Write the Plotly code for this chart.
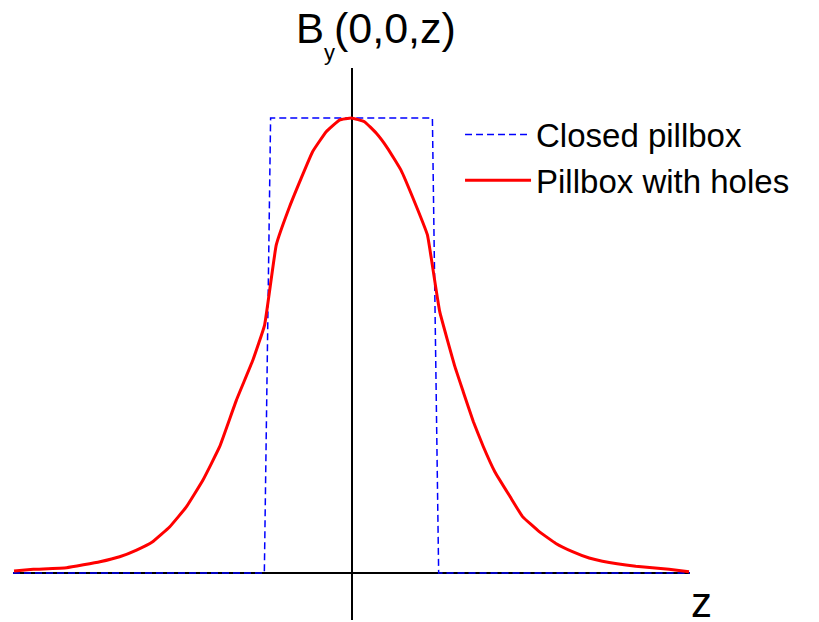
import plotly.graph_objects as go

# Closed pillbox: ideal flat-top field profile
box_z = [-4.0, -1.03, -0.956, 0.956, 1.03, 4.0]
box_by = [0.0, 0.0, 1.0, 1.0, 0.0, 0.0]

# Pillbox with beam holes: field leaks out past the cavity walls
holes_z = [-3.988, -3.76, -3.366, -2.973, -2.74, -2.54, -2.35, -2.147, -1.95,
           -1.755, -1.558, -1.36, -1.165, -1.027, -0.889, -0.732, -0.594,
           -0.46, -0.299, -0.142, 0.0, 0.153, 0.291, 0.425, 0.586, 0.72,
           0.897, 0.94, 1.042, 1.223, 1.321, 1.439, 1.557, 1.695, 1.873,
           2.021, 2.218, 2.415, 2.611, 2.808, 2.965, 3.359, 3.752, 3.988]
holes_by = [0.0044, 0.0081, 0.0116, 0.0248, 0.0358, 0.0505, 0.0688, 0.1018,
            0.1457, 0.2044, 0.2776, 0.38, 0.468, 0.545, 0.721, 0.805, 0.868,
            0.926, 0.97, 0.9956, 1.0, 0.992, 0.967, 0.934, 0.885, 0.827,
            0.743, 0.695, 0.575, 0.453, 0.398, 0.333, 0.278, 0.222, 0.168,
            0.124, 0.091, 0.065, 0.047, 0.033, 0.026, 0.015, 0.008, 0.003]

FONT = "Liberation Sans, Arial, sans-serif"

fig = go.Figure()
fig.add_trace(go.Scatter(
    x=box_z, y=box_by, mode="lines", name="Closed pillbox",
    line=dict(color="#0000FF", width=1.5, dash="7px,4px"),
))
fig.add_trace(go.Scatter(
    x=holes_z, y=holes_by, mode="lines", name="Pillbox with holes",
    line=dict(color="#FF0000", width=3, shape="spline", smoothing=0.3),
))

axis_common = dict(
    showgrid=False, zeroline=True, zerolinecolor="black", zerolinewidth=2,
    showticklabels=False, ticks="", showline=False, fixedrange=True,
)


def label(text, x, y, size):
    return dict(text=text, x=x, y=y, xref="paper", yref="paper",
                xanchor="left", yanchor="middle", showarrow=False,
                font=dict(size=size, family=FONT, color="black"))


fig.update_layout(
    width=819, height=622,
    margin=dict(l=13, r=129, t=68, b=2, autoexpand=False),
    paper_bgcolor="white", plot_bgcolor="white",
    xaxis=dict(range=[-4, 4], **axis_common),
    yaxis=dict(range=[-0.1033, 1.110], **axis_common),
    font=dict(family=FONT, color="black"),
    showlegend=True,
    legend=dict(
        x=0.5617, y=0.8288, xref="container", yref="container",
        xanchor="left", yanchor="top",
        font=dict(size=33, family=FONT, color="black"),
        bgcolor="rgba(0,0,0,0)", itemwidth=66,
    ),
    annotations=[
        label("B", 0.4151, 1.0716, 42),
        label("y", 0.4564, 1.0281, 22),
        label("(0,0,z)", 0.4705, 1.0716, 43),
        label("z", 0.9985, 0.0308, 42),
    ],
)

fig.write_html("out.html")
